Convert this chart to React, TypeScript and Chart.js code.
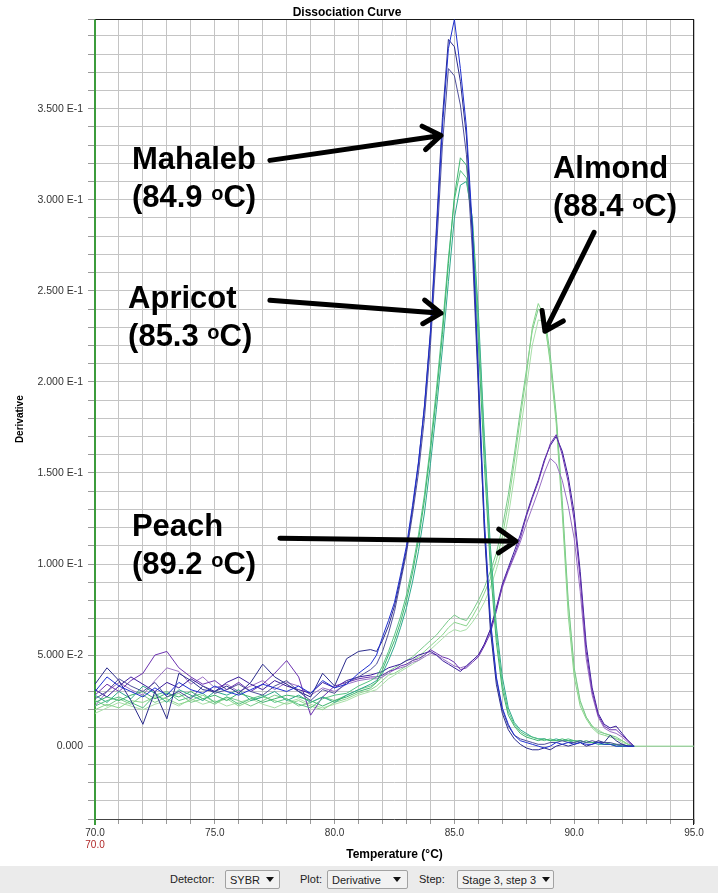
import React, { useEffect, useRef } from "react";
import { Chart, registerables } from "chart.js";

Chart.register(...registerables);

const FONT = '"Liberation Sans", Arial, Helvetica, sans-serif';

// Temperature grid (°C)
const temps = [
  70, 70.5, 71, 71.5, 72, 72.5, 73, 73.5, 74, 74.5, 75, 75.5, 76, 76.5, 77, 77.5, 78, 78.5, 79, 79.5, 80, 80.5, 81, 81.5,
  81.75, 82, 82.25, 82.5, 82.75, 83, 83.25, 83.5, 83.75, 84, 84.25, 84.5, 84.75, 85, 85.25, 85.5, 85.75, 86, 86.25, 86.5,
  86.75, 87, 87.25, 87.5, 87.75, 88, 88.25, 88.5, 88.75, 89, 89.25, 89.5, 89.75, 90, 90.25, 90.5, 90.75, 91, 91.25, 91.5,
  91.75, 92, 92.25, 92.5, 93, 95,
];

// Mahaleb (Tm 84.9 °C)
const mahaleb1 = [
  0.030, 0.038, 0.033, 0.030, 0.027, 0.032, 0.028, 0.035, 0.031, 0.029, 0.033, 0.030, 0.028, 0.031, 0.034, 0.032, 0.030, 0.033, 0.029, 0.036, 0.032, 0.034, 0.040, 0.045,
  0.050, 0.060, 0.069, 0.079, 0.094, 0.110, 0.132, 0.156, 0.186, 0.226, 0.280, 0.340, 0.383, 0.399, 0.372, 0.340, 0.285, 0.205, 0.125, 0.070, 0.038, 0.021, 0.012, 0.006,
  0.003, 0.002, 0.001, 0.000, -0.001, 0.000, 0.002, 0.001, 0.002, 0.001, 0.002, 0.001, 0.001, 0.002, 0.001, 0.001, 0.000, 0.000, 0.000, 0.000,
  null, null,
];
const mahaleb2 = [
  0.034, 0.043, 0.036, 0.025, 0.012, 0.030, 0.015, 0.040, 0.036, 0.031, 0.030, 0.033, 0.029, 0.035, 0.045, 0.038, 0.034, 0.030, 0.027, 0.040, 0.033, 0.048, 0.052, 0.053,
  0.052, 0.058, 0.066, 0.077, 0.092, 0.108, 0.130, 0.155, 0.187, 0.228, 0.285, 0.345, 0.388, 0.384, 0.365, 0.335, 0.280, 0.200, 0.118, 0.064, 0.034, 0.018, 0.009, 0.004,
  0.001, -0.001, -0.002, -0.002, -0.001, -0.002, 0.000, 0.001, 0.000, 0.001, 0.002, 0.000, 0.001, 0.003, 0.002, 0.006, 0.003, 0.001, 0.000, 0.000,
  null, null,
];
const mahaleb3 = [
  0.026, 0.030, 0.037, 0.033, 0.030, 0.035, 0.027, 0.030, 0.026, 0.033, 0.029, 0.031, 0.034, 0.030, 0.028, 0.033, 0.036, 0.030, 0.025, 0.031, 0.029, 0.035, 0.038, 0.042,
  0.045, 0.052, 0.062, 0.074, 0.090, 0.106, 0.127, 0.150, 0.180, 0.220, 0.272, 0.330, 0.372, 0.368, 0.352, 0.325, 0.272, 0.195, 0.120, 0.068, 0.037, 0.020, 0.011, 0.006,
  0.004, 0.003, 0.002, 0.001, 0.001, 0.002, 0.002, 0.003, 0.002, 0.002, 0.003, 0.002, 0.003, 0.002, 0.002, 0.002, 0.001, 0.001, 0.000, 0.000,
  null, null,
];

// Apricot (Tm 85.3 °C)
const apricot1 = [
  0.024, 0.027, 0.025, 0.028, 0.030, 0.026, 0.029, 0.027, 0.030, 0.026, 0.028, 0.025, 0.029, 0.027, 0.024, 0.026, 0.028, 0.027, 0.025, 0.022, 0.025, 0.027, 0.030, 0.032,
  0.035, 0.042, 0.050, 0.058, 0.068, 0.080, 0.095, 0.113, 0.135, 0.162, 0.192, 0.226, 0.265, 0.302, 0.323, 0.319, 0.285, 0.222, 0.155, 0.098, 0.057, 0.031, 0.017, 0.011,
  0.007, 0.005, 0.004, 0.003, 0.004, 0.003, 0.003, 0.004, 0.003, 0.003, 0.002, 0.003, 0.002, 0.002, 0.002, 0.001, 0.001, 0.000, 0.000, 0.000,
  null, null,
];
const apricot2 = [
  0.022, 0.025, 0.027, 0.024, 0.021, 0.028, 0.030, 0.025, 0.027, 0.029, 0.024, 0.027, 0.023, 0.026, 0.028, 0.024, 0.026, 0.023, 0.021, 0.026, 0.028, 0.029, 0.033, 0.036,
  0.038, 0.044, 0.052, 0.061, 0.071, 0.083, 0.098, 0.116, 0.138, 0.165, 0.196, 0.230, 0.268, 0.300, 0.316, 0.312, 0.288, 0.232, 0.165, 0.105, 0.062, 0.034, 0.019, 0.012,
  0.008, 0.006, 0.005, 0.004, 0.003, 0.004, 0.003, 0.003, 0.004, 0.003, 0.003, 0.002, 0.002, 0.002, 0.001, 0.001, 0.001, 0.000, 0.000, 0.000,
  null, null,
];
const apricot3 = [
  0.028, 0.024, 0.030, 0.026, 0.033, 0.029, 0.024, 0.031, 0.028, 0.025, 0.030, 0.028, 0.031, 0.025, 0.027, 0.030, 0.025, 0.028, 0.024, 0.027, 0.024, 0.028, 0.031, 0.034,
  0.036, 0.040, 0.047, 0.055, 0.065, 0.076, 0.090, 0.107, 0.128, 0.155, 0.185, 0.218, 0.255, 0.290, 0.308, 0.310, 0.290, 0.238, 0.170, 0.110, 0.066, 0.038, 0.021, 0.013,
  0.009, 0.007, 0.005, 0.004, 0.004, 0.003, 0.004, 0.003, 0.003, 0.002, 0.003, 0.002, 0.002, 0.001, 0.001, 0.001, 0.000, 0.000, 0.000, 0.000,
  null, null,
];

// Almond (Tm 88.4 °C)
const almond1 = [
  0.020, 0.023, 0.021, 0.025, 0.024, 0.027, 0.026, 0.023, 0.025, 0.028, 0.024, 0.026, 0.022, 0.025, 0.027, 0.025, 0.023, 0.025, 0.022, 0.020, 0.024, 0.026, 0.029, 0.031,
  0.033, 0.036, 0.039, 0.040, 0.042, 0.044, 0.047, 0.049, 0.052, 0.055, 0.058, 0.061, 0.065, 0.068, 0.067, 0.066, 0.071, 0.077, 0.084, 0.092, 0.102, 0.115, 0.133, 0.156,
  0.180, 0.203, 0.230, 0.243, 0.236, 0.210, 0.177, 0.128, 0.072, 0.038, 0.022, 0.015, 0.010, 0.007, 0.006, 0.005, 0.004, 0.003, 0.001, 0.000,
  0.000, 0.000,
];
const almond2 = [
  0.025, 0.022, 0.026, 0.023, 0.028, 0.024, 0.027, 0.029, 0.024, 0.026, 0.023, 0.027, 0.025, 0.022, 0.025, 0.028, 0.026, 0.022, 0.024, 0.027, 0.025, 0.028, 0.031, 0.033,
  0.035, 0.038, 0.041, 0.043, 0.045, 0.047, 0.049, 0.052, 0.055, 0.058, 0.061, 0.065, 0.069, 0.072, 0.070, 0.069, 0.074, 0.080, 0.087, 0.096, 0.106, 0.120, 0.138, 0.160,
  0.184, 0.206, 0.228, 0.240, 0.238, 0.215, 0.182, 0.135, 0.080, 0.043, 0.025, 0.016, 0.011, 0.008, 0.007, 0.006, 0.005, 0.003, 0.001, 0.000,
  null, null,
];
const almond3 = [
  0.018, 0.021, 0.024, 0.022, 0.020, 0.023, 0.025, 0.022, 0.026, 0.023, 0.025, 0.022, 0.024, 0.026, 0.023, 0.021, 0.024, 0.026, 0.023, 0.021, 0.023, 0.025, 0.028, 0.030,
  0.031, 0.034, 0.037, 0.039, 0.041, 0.043, 0.045, 0.047, 0.050, 0.053, 0.056, 0.059, 0.062, 0.064, 0.063, 0.064, 0.068, 0.073, 0.079, 0.087, 0.097, 0.109, 0.126, 0.148,
  0.172, 0.196, 0.220, 0.234, 0.233, 0.212, 0.180, 0.132, 0.078, 0.042, 0.024, 0.016, 0.011, 0.009, 0.007, 0.006, 0.004, 0.002, 0.001, 0.000,
  null, null,
];

// Peach (Tm 89.2 °C)
const peach1 = [
  0.028, 0.034, 0.030, 0.036, 0.040, 0.050, 0.052, 0.043, 0.038, 0.034, 0.036, 0.031, 0.035, 0.030, 0.034, 0.040, 0.047, 0.038, 0.017, 0.027, 0.033, 0.035, 0.037, 0.038,
  0.038, 0.039, 0.041, 0.042, 0.044, 0.045, 0.047, 0.048, 0.050, 0.053, 0.051, 0.049, 0.048, 0.046, 0.042, 0.043, 0.046, 0.049, 0.055, 0.062, 0.074, 0.088, 0.097, 0.105,
  0.114, 0.126, 0.136, 0.145, 0.156, 0.166, 0.171, 0.160, 0.145, 0.124, 0.092, 0.052, 0.030, 0.017, 0.011, 0.009, 0.009, 0.006, 0.003, 0.000,
  null, null,
];
const peach2 = [
  0.022, 0.030, 0.035, 0.031, 0.028, 0.036, 0.043, 0.041, 0.034, 0.038, 0.032, 0.034, 0.030, 0.033, 0.036, 0.031, 0.035, 0.033, 0.028, 0.032, 0.030, 0.034, 0.036, 0.037,
  0.037, 0.038, 0.040, 0.042, 0.043, 0.044, 0.046, 0.047, 0.049, 0.051, 0.050, 0.048, 0.046, 0.044, 0.043, 0.044, 0.047, 0.050, 0.056, 0.064, 0.075, 0.087, 0.096, 0.104,
  0.112, 0.122, 0.131, 0.140, 0.150, 0.158, 0.155, 0.146, 0.132, 0.114, 0.085, 0.048, 0.028, 0.016, 0.010, 0.008, 0.007, 0.005, 0.002, 0.000,
  null, null,
];
const peach3 = [
  0.031, 0.027, 0.033, 0.038, 0.034, 0.030, 0.035, 0.032, 0.037, 0.033, 0.030, 0.035, 0.038, 0.034, 0.031, 0.036, 0.033, 0.031, 0.029, 0.035, 0.032, 0.036, 0.038, 0.039,
  0.040, 0.041, 0.043, 0.044, 0.045, 0.047, 0.048, 0.050, 0.051, 0.052, 0.050, 0.047, 0.045, 0.043, 0.041, 0.044, 0.047, 0.050, 0.056, 0.064, 0.076, 0.089, 0.098, 0.107,
  0.116, 0.127, 0.137, 0.146, 0.157, 0.165, 0.170, 0.162, 0.148, 0.128, 0.096, 0.056, 0.032, 0.018, 0.012, 0.010, 0.011, 0.007, 0.003, 0.000,
  null, null,
];

// draw order: first dataset ends on top
const seriesValues = [mahaleb1, mahaleb2, mahaleb3, apricot1, apricot2, apricot3, peach1, peach3, peach2, almond1, almond2, almond3];
const seriesLabels = ["Mahaleb 1", "Mahaleb 2", "Mahaleb 3", "Apricot 1", "Apricot 2", "Apricot 3", "Peach 1", "Peach 3", "Peach 2", "Almond 1", "Almond 2", "Almond 3"];
const seriesColors = ["#1e2fd0", "#2b2b8c", "#50509a", "#3fb56e", "#56c383", "#2ea88c", "#6c32b0", "#3b1d9c", "#9a70c4", "#8ad58c", "#79c98a", "#a8dea8"];

// Annotations (data coordinates)
const noteNames = ["Mahaleb", "Apricot", "Almond", "Peach"];
const noteTm = ["84.9", "85.3", "88.4", "89.2"];
const noteTextT = [71.54, 71.38, 89.11, 71.54];
const noteTextV = [0.3167, 0.2404, 0.3117, 0.1153];
const arrowTailT = [77.3, 77.3, 90.83, 77.72];
const arrowTailV = [0.3216, 0.2448, 0.2821, 0.1142];
const arrowHeadT = [84.44, 84.44, 88.78, 87.57];
const arrowHeadV = [0.3353, 0.2377, 0.2278, 0.1125];

const startTempLabel = "70.0";

// Toolbar
const toolbarLabels = ["Detector:", "Plot:", "Step:"];
const toolbarValues = ["SYBR", "Derivative", "Stage 3, step 3"];

function formatDerivative(v: number): string {
  const hundredths = v * 100;
  if (Math.abs(hundredths - Math.round(hundredths)) > 1e-6) return "";
  const r = Math.round(hundredths) / 100;
  if (Math.abs(r) < 1e-9) return "0.000";
  if (r < 0) return "";
  if (Math.round(hundredths) % 5 !== 0) return "";
  const e = Math.floor(Math.log10(r) + 1e-9);
  const m = r / Math.pow(10, e);
  return m.toFixed(3) + " E" + e;
}

const framePlugin = {
  id: "frame",
  beforeDatasetsDraw(chart: any) {
    const { ctx, chartArea } = chart;
    const { left, right, top, bottom } = chartArea;
    ctx.save();
    ctx.lineWidth = 1;
    ctx.strokeStyle = "#1a1a1a";
    ctx.beginPath();
    ctx.moveTo(left, Math.round(top) + 0.5);
    ctx.lineTo(right, Math.round(top) + 0.5);
    ctx.moveTo(Math.round(right) - 0.5, top);
    ctx.lineTo(Math.round(right) - 0.5, bottom + 6);
    ctx.stroke();
    ctx.strokeStyle = "#444";
    ctx.beginPath();
    ctx.moveTo(left, Math.round(bottom) + 0.5);
    ctx.lineTo(right, Math.round(bottom) + 0.5);
    ctx.stroke();
    ctx.strokeStyle = "#3c9c3c";
    ctx.lineWidth = 2;
    ctx.beginPath();
    ctx.moveTo(Math.round(left), top);
    ctx.lineTo(Math.round(left), bottom + 6);
    ctx.stroke();
    ctx.restore();
  },
};

const notesPlugin = {
  id: "notes",
  afterDatasetsDraw(chart: any) {
    const { ctx } = chart;
    const xs = chart.scales.x;
    const ys = chart.scales.y;
    ctx.save();
    ctx.strokeStyle = "#000";
    ctx.lineWidth = 5;
    ctx.lineCap = "round";
    ctx.lineJoin = "round";
    for (let i = 0; i < arrowTailT.length; i++) {
      const x1 = xs.getPixelForValue(arrowTailT[i]);
      const y1 = ys.getPixelForValue(arrowTailV[i]);
      const x2 = xs.getPixelForValue(arrowHeadT[i]);
      const y2 = ys.getPixelForValue(arrowHeadV[i]);
      const a = Math.atan2(y2 - y1, x2 - x1);
      const L = 21;
      const s = 0.6;
      ctx.beginPath();
      ctx.moveTo(x1, y1);
      ctx.lineTo(x2, y2);
      ctx.moveTo(x2 - L * Math.cos(a - s), y2 - L * Math.sin(a - s));
      ctx.lineTo(x2, y2);
      ctx.lineTo(x2 - L * Math.cos(a + s), y2 - L * Math.sin(a + s));
      ctx.stroke();
    }
    ctx.fillStyle = "#000";
    ctx.textAlign = "left";
    ctx.textBaseline = "alphabetic";
    const big = `bold 31px ${FONT}`;
    const small = `bold 20px ${FONT}`;
    for (let i = 0; i < noteNames.length; i++) {
      const px = xs.getPixelForValue(noteTextT[i]);
      const py = ys.getPixelForValue(noteTextV[i]);
      ctx.font = big;
      ctx.fillText(noteNames[i], px, py);
      const l2 = py + 38;
      let cx = px;
      const p1 = "(" + noteTm[i] + " ";
      ctx.fillText(p1, cx, l2);
      cx += ctx.measureText(p1).width;
      ctx.font = small;
      ctx.fillText("o", cx, l2 - 7);
      cx += ctx.measureText("o").width;
      ctx.font = big;
      ctx.fillText("C)", cx, l2);
    }
    ctx.restore();
  },
  afterDraw(chart: any) {
    const { ctx } = chart;
    const xs = chart.scales.x;
    ctx.save();
    ctx.fillStyle = "#b02828";
    ctx.font = `10px ${FONT}`;
    ctx.textAlign = "center";
    ctx.textBaseline = "middle";
    ctx.fillText(startTempLabel, xs.getPixelForValue(70), 845);
    ctx.restore();
  },
};

export default function App() {
  const ref = useRef<HTMLCanvasElement>(null);

  useEffect(() => {
    const canvas = ref.current;
    if (!canvas) return;
    const datasets = seriesValues.map((vals, i) => ({
      label: seriesLabels[i],
      data: temps.map((t, j) => ({ x: t, y: vals[j] })),
      borderColor: seriesColors[i],
      backgroundColor: seriesColors[i],
      borderWidth: 1,
      pointRadius: 0,
      tension: 0,
      fill: false,
      spanGaps: false,
    }));
    const chart = new Chart(canvas, {
      type: "line",
      data: { datasets },
      options: {
        animation: false,
        responsive: false,
        layout: { padding: { left: 0, right: 24, top: 0, bottom: 0 } },
        plugins: {
          legend: { display: false },
          tooltip: { enabled: false },
          title: {
            display: true,
            text: "Dissociation Curve",
            color: "#000",
            font: { family: FONT, size: 12, weight: "bold" },
            padding: { top: 5, bottom: 0 },
          },
        },
        scales: {
          x: {
            type: "linear",
            min: 70,
            max: 95,
            border: { display: false },
            grid: { color: "#c4c4c4", tickColor: "#999", tickLength: 5, drawTicks: true },
            ticks: {
              stepSize: 1,
              autoSkip: false,
              maxRotation: 0,
              padding: 3,
              color: "#333",
              font: { family: FONT, size: 10 },
              callback: (value: any) => {
                const v = Number(value);
                return Math.abs(v % 5) < 1e-9 ? v.toFixed(1) : "";
              },
            },
            title: {
              display: true,
              text: "Temperature (°C)",
              color: "#000",
              font: { family: FONT, size: 12, weight: "bold" },
              padding: { top: 0, bottom: 4 },
            },
            afterFit: (scale: any) => {
              scale.height = 47;
            },
          },
          y: {
            type: "linear",
            min: -0.04,
            max: 0.399,
            bounds: "data",
            border: { display: false },
            grid: { color: "#c4c4c4", tickColor: "#999", tickLength: 7, drawTicks: true },
            ticks: {
              stepSize: 0.01,
              autoSkip: false,
              includeBounds: true,
              padding: 5,
              color: "#333",
              font: { family: FONT, size: 10.5 },
              callback: (value: any) => formatDerivative(Number(value)),
            },
            title: {
              display: true,
              text: "Derivative",
              color: "#000",
              font: { family: FONT, size: 10, weight: "bold" },
              padding: { top: 14, bottom: 0 },
            },
            afterFit: (scale: any) => {
              scale.width = 95;
            },
          },
        },
      },
      plugins: [framePlugin, notesPlugin],
    } as any);
    return () => chart.destroy();
  }, []);

  const labelLefts = [170, 300, 419];
  const boxLefts = [225, 327, 457];
  const boxWidths = [55, 81, 97];

  const tb: React.CSSProperties = { position: "absolute", top: 0, lineHeight: "27px", color: "#222" };
  const box: React.CSSProperties = {
    position: "absolute",
    top: 4,
    height: 19,
    boxSizing: "border-box",
    border: "1px solid #a2a2a2",
    borderRadius: 2,
    background: "#f2f2f2",
    paddingLeft: 4,
    paddingRight: 6,
    color: "#222",
    display: "flex",
    alignItems: "center",
    justifyContent: "space-between",
    whiteSpace: "nowrap",
  };
  const tri: React.CSSProperties = {
    display: "inline-block",
    width: 0,
    height: 0,
    marginLeft: 6,
    borderLeft: "4px solid transparent",
    borderRight: "4px solid transparent",
    borderTop: "5px solid #111",
    flex: "0 0 auto",
  };

  return (
    <div style={{ position: "absolute", left: 0, top: 0, width: 718, height: 893, background: "#fff", overflow: "hidden" }}>
      <canvas ref={ref} width={718} height={866} style={{ display: "block" }} />
      <div
        style={{
          position: "absolute",
          left: 0,
          top: 866,
          width: 718,
          height: 27,
          background: "#ebebeb",
          fontFamily: FONT,
          fontSize: 11,
        }}
      >
        {toolbarLabels.map((lab, i) => (
          <React.Fragment key={lab}>
            <span style={{ ...tb, left: labelLefts[i] }}>{lab}</span>
            <div style={{ ...box, left: boxLefts[i], width: boxWidths[i] }}>
              <span>{toolbarValues[i]}</span>
              <span style={tri} />
            </div>
          </React.Fragment>
        ))}
      </div>
    </div>
  );
}
